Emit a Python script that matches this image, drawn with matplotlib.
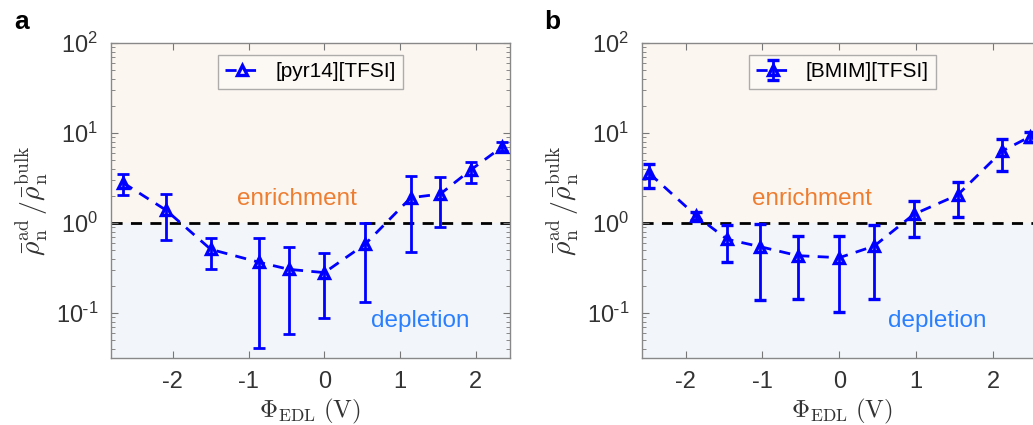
import matplotlib
matplotlib.use('Agg')
import matplotlib.pyplot as plt
import numpy as np
from matplotlib.ticker import FuncFormatter, LogLocator, NullFormatter

# panel a: [pyr14][TFSI]
phi_a = [-2.66, -2.09, -1.50, -0.86, -0.47, 0.00, 0.54, 1.14, 1.53, 1.93, 2.35]
rho_a = [2.81, 1.39, 0.51, 0.366, 0.306, 0.281, 0.584, 1.91, 2.10, 3.88, 7.05]
hi_a = [3.50, 2.10, 0.687, 0.687, 0.546, 0.46, 1.00, 3.36, 3.22, 4.76, 8.0]
lo_a = [2.05, 0.647, 0.305, 0.0405, 0.0584, 0.0872, 0.134, 0.48, 0.895, 2.81, 6.37]

# panel b: [BMIM][TFSI]
phi_b = [-2.47, -1.86, -1.46, -1.03, -0.54, 0.00, 0.455, 0.97, 1.54, 2.12, 2.48]
rho_b = [3.56, 1.20, 0.66, 0.546, 0.434, 0.412, 0.555, 1.25, 2.05, 6.31, 9.1]
hi_b = [4.48, 1.34, 0.95, 0.975, 0.717, 0.717, 0.95, 1.75, 2.83, 8.65, 10.3]
lo_b = [2.47, 1.08, 0.366, 0.139, 0.143, 0.102, 0.143, 0.693, 1.16, 3.81, 8.0]

plt.rcParams['font.family'] = ['Liberation Sans', 'DejaVu Sans']
plt.rcParams['mathtext.fontset'] = 'cm'

fig = plt.figure(figsize=(10.33, 4.25), dpi=100)
ax_a = fig.add_axes([0.1072, 0.1576, 0.3865, 0.7412])
ax_b = fig.add_axes([0.6212, 0.1576, 0.3885, 0.7412])

blue = '#0000ff'
ymin, ymax = 10 ** -1.5, 100


def logfmt(v, p):
    e = int(round(np.log10(v)))
    s = str(e).replace('-', r'\text{-}')
    return r'$\mathregular{10^{%s}}$' % s


def style(ax, xlim):
    ax.set_yscale('log')
    ax.set_xlim(*xlim)
    ax.set_ylim(ymin, ymax)
    ax.axhspan(1, ymax, color='#fcf6f0', zorder=0)
    ax.axhspan(ymin, 1, color='#f2f6fa', zorder=0)
    ax.axhline(1, color='black', lw=2, ls=(0, (4, 3)), zorder=1)
    ax.set_xticks([-2, -1, 0, 1, 2])
    ax.set_xticklabels(['-2', '-1', '0', '1', '2'])
    ax.yaxis.set_major_locator(LogLocator(base=10, numticks=10))
    ax.yaxis.set_minor_locator(LogLocator(base=10, subs=np.arange(2, 10), numticks=10))
    ax.yaxis.set_minor_formatter(NullFormatter())
    ax.yaxis.set_major_formatter(FuncFormatter(logfmt))
    ax.tick_params(which='both', direction='in', top=True, right=True, color='#777777')
    ax.tick_params(which='major', length=5, labelsize=17, labelcolor='#333333', pad=9)
    ax.tick_params(which='minor', length=3)
    for s in ax.spines.values():
        s.set_color('#888888')
        s.set_linewidth(1)
    ax.set_ylabel(r'$\bar{\rho}_{\mathrm{n}}^{\mathrm{ad}}\,/\bar{\rho}_{\mathrm{n}}^{\mathrm{bulk}}$',
                  fontsize=20, color='#333333', labelpad=4)
    ax.set_xlabel(r'$\Phi_{\mathrm{EDL}}\ \mathrm{(V)}$', fontsize=18, color='#333333', labelpad=3)
    ax.text(-0.36, 1.83, 'enrichment', color='#ed7d31', fontsize=17.5, ha='center', va='center')
    ax.text(1.27, 0.082, 'depletion', color='#2a7fff', fontsize=17.5, ha='center', va='center')


style(ax_a, (-2.82, 2.45))
style(ax_b, (-2.57, 2.65))

# panel a
err_a = [np.array(rho_a) - np.array(lo_a), np.array(hi_a) - np.array(rho_a)]
ax_a.errorbar(phi_a, rho_a, yerr=err_a, fmt='none', ecolor=blue, elinewidth=2,
              capsize=4, capthick=2, zorder=3)
ax_a.plot(phi_a, rho_a, color=blue, lw=2, ls=(0, (4, 3)), marker='^', ms=7,
          mfc='none', mec=blue, mew=2.4, zorder=4, label='[pyr14][TFSI]')
leg = ax_a.legend(loc='upper center', fontsize=15, frameon=True, fancybox=False,
                  handlelength=1.6, borderpad=0.35, borderaxespad=0,
                  bbox_to_anchor=(0.5, 0.962))
leg.get_frame().set_facecolor('#fdf9f5')
leg.get_frame().set_edgecolor('#999999')

# panel b
err_b = [np.array(rho_b) - np.array(lo_b), np.array(hi_b) - np.array(rho_b)]
ax_b.errorbar(phi_b, rho_b, yerr=err_b, color=blue, ecolor=blue, elinewidth=2,
              capsize=4, capthick=2, lw=2, ls=(0, (4, 3)), marker='^', ms=7,
              mfc='none', mec=blue, mew=2.4, zorder=4, label='[BMIM][TFSI]')
leg = ax_b.legend(loc='upper center', fontsize=15, frameon=True, fancybox=False,
                  handlelength=1.6, borderpad=0.35, borderaxespad=0,
                  bbox_to_anchor=(0.5, 0.962))
leg.get_frame().set_facecolor('#fdf9f5')
leg.get_frame().set_edgecolor('#999999')

fig.text(0.021, 0.948, 'a', fontsize=19, fontweight='bold', ha='center', va='center')
fig.text(0.535, 0.948, 'b', fontsize=19, fontweight='bold', ha='center', va='center')

fig.savefig('out.png', dpi=100)
